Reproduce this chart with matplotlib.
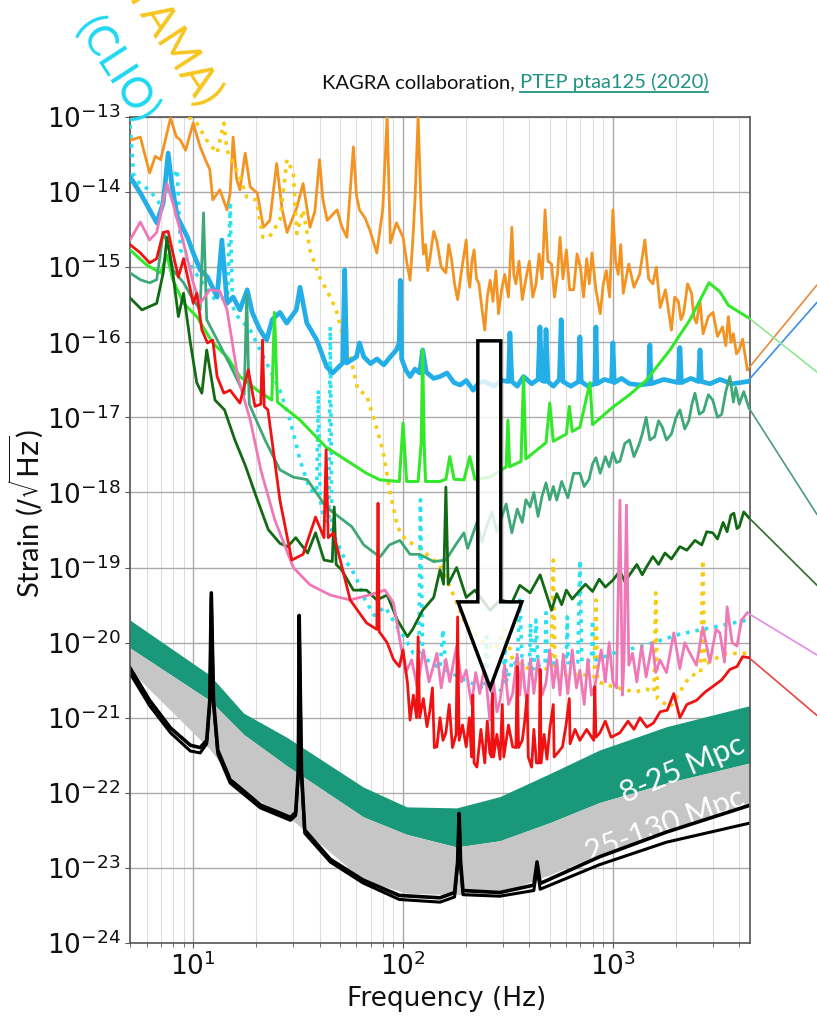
import matplotlib
matplotlib.use("Agg")
import matplotlib.pyplot as plt
import numpy as np
from matplotlib.patches import Polygon
from matplotlib.lines import Line2D
from matplotlib.ticker import LogLocator, NullLocator

# ---- data: (frequency Hz, strain /sqrt(Hz)) ----
orange_pts = [(5.0,4.9e-14),(5.6,5.4e-14),(6.2,1.8e-14),(6.6,3.0e-14),(7.0,2.7e-14),(7.8,9.7e-14),(8.3,5.5e-14),
    (8.7,4.9e-14),(9.2,3.6e-14),(10.0,8.3e-14),(10.8,4.0e-14),(11.5,2.6e-14),(12.0,2.0e-14),(12.4,7.9e-15),
    (13.4,1.07e-14),(14.5,5.8e-15),(15.0,9.7e-15),(15.5,5.4e-14),(16.1,1.5e-14),(16.7,1.07e-14),(17.7,3.3e-14),
    (18.7,1.17e-14),(20.2,9.7e-15),(21.6,3.4e-15),(23.2,4.2e-15),(25.0,2.4e-14),(26.5,6.0e-15),(28.0,2.9e-15),
    (31.2,6.3e-15),(33.4,1.3e-14),(36.0,3.4e-15),(38.0,5.5e-15),(40.0,2.7e-14),(41.5,8.0e-15),(43.5,4.2e-15),
    (48.5,5.8e-15),(51.0,3.5e-15),(54.0,2.5e-15),(58.0,4.0e-14),(60.0,9.0e-15),(62.0,5.8e-15),(66.0,4.5e-15),
    (69.5,3.1e-15),(75.0,1.55e-15),(80.0,5.8e-15),(84.0,1.0e-13),(87.0,2.1e-15),(93.0,3.9e-15),(100.0,2.5e-15),
    (104,1.2e-15),(108,6.7e-16),(111,2.0e-15),(114,7.9e-15),(118,1.0e-13),(122,5.8e-15),(125,1.5e-15),
    (128,2.0e-15),(131,9e-16),(134,1.25e-15),(140,3e-15),(145,2.2e-15),(152,1.0e-15),(160,8.4e-16),(165,2e-15),
    (170,1.3e-15),(176,6e-16),(182,3.7e-16),(190,9e-16),(200,2.3e-15),(204,8e-16),(208,5.4e-16),(213,1.2e-15),
    (218,1.7e-15),(224,7e-16),(230,6.0e-16),(237,3e-16),(245,1.45e-16),(252,4e-16),(260,6.7e-16),(268,3.5e-16),
    (277,9e-16),(285,2.4e-16),(295,5e-16),(305,8.0e-16),(318,4e-16),(330,3.4e-15),(337,8e-16),(345,6.0e-16),
    (357,1.2e-15),(370,3.7e-16),(385,7e-16),(400,1.2e-15),(415,4e-16),(430,6.0e-16),(445,1.5e-15),(460,7e-16),
    (475,5.8e-15),(490,1.2e-15),(510,1.1e-15),(527,4e-16),(545,8.4e-16),(560,2.5e-15),(578,7e-16),(600,1.7e-15),
    (622,5e-16),(650,5.0e-16),(675,1.5e-15),(700,1.0e-15),(725,4e-16),(750,1.3e-15),(772,6e-16),(795,1.55e-15),
    (830,5e-16),(870,2.4e-16),(900,6e-16),(930,9.0e-16),(965,4e-16),(1000,5.8e-15),(1030,1.2e-15),(1060,8.0e-16),
    (1090,2e-15),(1120,4.5e-16),(1190,1.1e-15),(1260,5.4e-16),(1340,8e-16),(1420,2.3e-15),(1480,7e-16),
    (1550,6.0e-16),(1610,1.0e-15),(1680,2.9e-16),(1780,5e-16),(1900,1.45e-16),(1970,4e-16),(2050,3.5e-16),
    (2110,2e-16),(2170,2.4e-16),(2270,6e-16),(2370,4.5e-16),(2430,2.2e-16),(2500,1.8e-16),(2600,3.5e-16),
    (2690,1.3e-16),(2850,2.2e-16),(3000,2.5e-16),(3150,1.2e-16),(3330,1.6e-16),(3450,9e-17),(3550,2.2e-16),
    (3650,1.0e-16),(3750,1.3e-16),(3880,7e-17),(4000,8.0e-17),(4150,1.1e-16),(4370,4.3e-17)]

tama_pts = [(9.5,1.0e-13),(10.4,8.3e-14),(11.6,4.9e-14),(13.0,3.3e-14),(14.0,8.3e-14),(14.5,3.6e-14),(16.7,1.6e-14),
    (18.0,8.6e-15),(20.0,7.8e-15),(21.5,2.5e-15),(23.0,2.5e-15),(25.9,4.2e-15),(28.0,2.7e-14),(30.0,1.8e-14),
    (31.2,2.8e-15),(33.4,5.8e-15),(36.0,1.7e-15),(40.0,7.4e-16),(45.0,4.0e-16),(48.0,2.7e-16),(52.0,1.16e-16),
    (57.0,5.3e-17),(61.0,2.3e-17),(67.0,2.0e-17),(73.0,9.2e-18),(80.0,3.7e-18),(87.0,9.7e-19),(94.0,3.5e-19),
    (103.0,2.3e-19),(114.0,2.0e-19),(130.0,1.5e-19),(150.0,1.08e-19),(172.0,4.6e-20),(195.0,2.0e-20),
    (232.0,1.1e-20),(275.0,8.0e-21),(305.0,1.5e-20),(333.0,5.9e-21),(403.0,4.4e-21),(510.0,4.5e-21),
    (520.0,1.26e-19),(530.0,4.0e-21),(545.0,3.6e-21),(700.0,3.8e-21),(815.0,3.5e-21),(830.0,3.7e-20),
    (845.0,3.0e-21),(1000.0,2.6e-21),(1270.0,2.2e-21),(1450.0,2.4e-21),(1570.0,2.2e-21),(1600.0,4.6e-20),
    (1630.0,1.8e-21),(1870.0,1.38e-21),(2330.0,3.6e-21),(2620.0,4.0e-21),(2680.0,1.26e-19),(2740.0,5.0e-21),
    (2990.0,5.9e-21),(3500.0,7.2e-21),(4370.0,7.2e-21)]

clio_pts = [(5.0,7.8e-14),(5.2,1.7e-14),(5.6,1.25e-14),(6.2,1.07e-14),(7.0,6.7e-15),(7.6,1.07e-14),(8.4,2.0e-14),
    (8.7,1.7e-15),(9.7,1.07e-15),(10.8,6.8e-16),(12.7,3.7e-16),(14.6,4.0e-16),(15.0,6.7e-15),(15.4,3.0e-16),
    (16.3,2.2e-16),(18.7,1.46e-16),(22.0,5.8e-17),(25.9,2.3e-17),(28.9,9.2e-18),(32.3,2.7e-18),(36.0,1.08e-18),
    (38.8,1.0e-18),(39.5,2.3e-17),(40.3,8.0e-19),(42.0,4.3e-19),(44.3,4.0e-19),(45.0,1.6e-16),(45.8,3.0e-19),
    (48.0,2.3e-19),(53.0,1.26e-19),(59.0,8.0e-20),(66.0,3.7e-20),(73.0,2.3e-20),(82.0,3.0e-20),(94.0,1.6e-20),
    (103.0,1.1e-20),(112.0,7.2e-21),(119.0,7.0e-21),(121.0,8.0e-19),(124.0,6.5e-21),(150.0,4.5e-21),
    (155.0,1.5e-20),(160.0,4.3e-21),(195.0,3.2e-21),(232.0,2.6e-21),(245.0,2.4e-21),(250.0,1.2e-20),
    (255.0,2.3e-21),(280.0,2.1e-21),(300.0,2.5e-21),(305.0,1.0e-20),(312.0,3.0e-21),(333.0,5.9e-21),
    (350.0,5.0e-21),(360.0,3.7e-20),(370.0,5.0e-21),(400.0,4.8e-21),(405.0,1.8e-20),(412.0,4.6e-21),
    (420.0,4.5e-21),(430.0,2.0e-20),(440.0,5.0e-21),(475.0,5.2e-21),(480.0,2.5e-20),(487.0,5.2e-21),
    (560.0,5.5e-21),(600.0,5.4e-21),(606.0,2.2e-20),(612.0,5.4e-21),(680.0,5.5e-21),(696.0,1.26e-19),
    (712.0,5.5e-21),(790.0,5.8e-21),(800.0,2.0e-20),(810.0,5.8e-21),(850.0,6.0e-21),(1000.0,7.2e-21),
    (1440.0,9.3e-21),(2085.0,1.3e-20),(2990.0,1.6e-20),(4370.0,2.0e-20)]

blue_pts = [(5.0,1.6e-14),(5.6,9.7e-15),(6.2,5.8e-15),(6.7,3.9e-15),(7.2,7.2e-15),(7.6,3.3e-14),(7.9,1.3e-14),
    (8.4,4.7e-15),(9.4,2.5e-15),(10.0,1.55e-15),(10.8,9.2e-16),(11.7,7.4e-16),(13.0,4.0e-16),(13.7,2.3e-15),
    (14.5,3.3e-16),(15.5,4.0e-16),(16.7,2.7e-16),(18.1,5.0e-16),(19.1,2.5e-16),(20.8,1.46e-16),(22.4,1.07e-16),
    (23.8,2.0e-16),(25.9,2.5e-16),(27.9,1.8e-16),(31.0,2.7e-16),(32.3,5.4e-16),(34.8,1.8e-16),(38.8,1.07e-16),
    (43.3,4.7e-17),(46.2,3.9e-17),(51.6,5.3e-17),(52.7,9.2e-16),(53.9,5.3e-17),(60.0,6.4e-17),(62.0,9.8e-17),
    (65.0,6.4e-17),(70.0,5.2e-17),(75.0,6.0e-17),(81.0,5.0e-17),(87.0,6.4e-17),(93.0,7.9e-17),(96.0,1.0e-16),
    (97.0,6.7e-16),(98.5,6.0e-17),(103.0,4.3e-17),(108.0,3.5e-17),(114.0,4.4e-17),(120.0,3.9e-17),
    (124.0,7.9e-17),(129.0,4.0e-17),(140.0,3.3e-17),(150.0,3.5e-17),(162.0,3.9e-17),(175.0,2.9e-17),
    (187.0,2.7e-17),(200.0,3.1e-17),(216.0,2.3e-17),(230.0,2.9e-17),(245.0,3.0e-17),(270.0,2.6e-17),
    (295.0,3.1e-17),(318.0,3.0e-17),(323.0,1.33e-16),(330.0,3.0e-17),(350.0,2.6e-17),(375.0,3.5e-17),
    (410.0,2.8e-17),(440.0,3.2e-17),(449.0,1.6e-16),(458.0,3.1e-17),(473.0,3.0e-17),(480.0,1.48e-16),
    (490.0,3.0e-17),(520.0,2.6e-17),(556.0,3.2e-17),(567.0,2.0e-16),(578.0,3.0e-17),(630.0,2.6e-17),
    (686.0,3.0e-17),(696.0,1.18e-16),(706.0,3.0e-17),(760.0,2.6e-17),(820.0,2.8e-17),(830.0,1.6e-16),
    (840.0,2.8e-17),(910.0,3.2e-17),(985.0,3.0e-17),(1000.0,9.8e-17),(1015.0,2.9e-17),(1100.0,3.3e-17),
    (1200.0,2.8e-17),(1345.0,2.7e-17),(1480.0,2.8e-17),(1500.0,9.2e-17),(1520.0,2.8e-17),(1750.0,3.2e-17),
    (2050.0,2.9e-17),(2085.0,8.5e-17),(2120.0,2.9e-17),(2350.0,3.3e-17),(2560.0,3.0e-17),(2600.0,7.9e-17),
    (2640.0,3.0e-17),(2900.0,2.8e-17),(3235.0,3.2e-17),(3700.0,2.8e-17),(4370.0,3.0e-17)]

lime_pts = [(5.0,1.7e-15),(6.0,1.07e-15),(7.0,8.4e-16),(7.5,1.45e-15),(8.0,6.8e-16),(9.0,3.3e-16),(10.4,2.2e-16),
    (12.4,9.8e-17),(14.5,6.4e-17),(16.7,3.5e-17),(20.2,2.3e-17),(23.7,1.7e-17),(24.4,2.5e-16),(25.2,1.6e-17),
    (32.3,9.2e-18),(43.0,4.0e-18),(55.8,2.5e-18),(67.0,1.8e-18),(77.6,1.47e-18),(96.0,1.4e-18),(100.0,8.4e-18),
    (104.0,1.4e-18),(118.0,1.4e-18),(122.0,4.5e-18),(124.0,7.9e-17),(126.0,4.5e-18),(128.0,1.4e-18),
    (150.0,1.4e-18),(160.0,1.5e-18),(167.0,3.0e-18),(175.0,1.5e-18),(195.0,1.47e-18),(208.0,3.0e-18),
    (220.0,1.5e-18),(260.0,1.6e-18),(295.0,2.0e-18),(310.0,2.2e-18),(316.0,9.2e-18),(322.0,2.2e-18),
    (365.0,2.6e-18),(375.0,3.5e-17),(385.0,2.8e-18),(480.0,4.6e-18),(500.0,1.55e-17),(520.0,4.8e-18),
    (600.0,6.0e-18),(620.0,1.4e-17),(640.0,6.5e-18),(696.0,7.4e-18),(777.0,2.9e-17),(800.0,8.0e-18),
    (1000.0,1.37e-17),(1200.0,2.0e-17),(1440.0,3.1e-17),(1870.0,7.9e-17),(2330.0,2.0e-16),(2870.0,6.2e-16),
    (3235.0,4.7e-16),(3550.0,3.1e-16),(4450.0,2.1e-16)]

seagreen_pts = [(5.0,8.4e-16),(5.6,6.8e-16),(6.2,6.2e-16),(6.7,6.8e-16),(7.2,2.9e-15),(7.6,2.0e-15),(8.0,9.2e-16),
    (9.0,6.2e-16),(10.0,3.7e-16),(10.8,2.7e-16),(11.2,5.3e-15),(11.6,2.0e-16),(13.4,9.2e-17),(15.8,3.7e-17),
    (17.5,2.0e-17),(18.0,4.3e-16),(18.5,1.5e-17),(22.0,5.0e-18),(25.9,2.0e-18),(30.0,1.6e-18),(35.0,1.48e-18),
    (43.0,6.4e-19),(57.0,3.5e-19),(65.0,2.0e-19),(77.6,1.38e-19),(86.0,2.0e-19),(96.6,2.3e-19),(108.0,1.5e-19),
    (120.0,1.5e-19),(140.0,1.2e-19),(160.0,1.26e-19),(178.0,2.0e-19),(195,2.9e-19),(203,1.8e-19),(210,2.3e-19),
    (225,4e-19),(238,2.2e-19),(250,3.5e-19),(265,5.5e-19),(280,3e-19),(295,4.7e-19),(310,7e-19),(330,2.9e-19),
    (350,6e-19),(370,4e-19),(385,8e-19),(403,6.4e-19),(420,1.0e-18),(440,4.8e-19),(460,9e-19),(480,1.34e-18),
    (500,8e-19),(520,1.2e-18),(540,7.9e-19),(570,1.4e-18),(610,8.5e-19),(650,1.8e-18),(696,1.8e-18),
    (730,1.2e-18),(770,1.5e-18),(800,2.4e-18),(830,2.9e-18),(870,1.8e-18),(920,3.0e-18),(960,2.2e-18),
    (1000,3.4e-18),(1040,2.5e-18),(1080,2.6e-18),(1140,4.5e-18),(1200,5.0e-18),(1260,3.0e-18),(1330,4.3e-18),
    (1380,6e-18),(1440,1.0e-17),(1500,5e-18),(1580,5.5e-18),(1650,9e-18),(1720,7.4e-18),(1800,5e-18),
    (1900,6.0e-18),(2000,1.0e-17),(2085,1.26e-17),(2200,7e-18),(2300,9.0e-18),(2380,1.5e-17),(2460,2.1e-17),
    (2580,1.1e-17),(2700,1.2e-17),(2850,2e-17),(2990,1.7e-17),(3150,1e-17),(3300,1.1e-17),(3450,2.2e-17),
    (3610,3.5e-17),(3750,1.6e-17),(3850,2.5e-17),(4000,1.5e-17),(4200,2.2e-17),(4450,1.33e-17)]

darkgreen_pts = [(5.0,3.9e-16),(5.7,2.7e-16),(6.7,3.3e-16),(7.2,8.4e-16),(7.5,2.5e-15),(8.0,8.4e-16),(8.5,2.2e-16),
    (9.0,4.5e-16),(9.7,9.8e-17),(10.4,2.9e-17),(11.0,2.1e-17),(11.6,7.9e-17),(12.7,1.7e-17),(14.1,1.26e-17),
    (15.8,5.0e-18),(17.7,2.3e-18),(20.0,8.7e-19),(22.8,3.2e-19),(25.9,2.1e-19),(28.2,1.9e-19),(30.8,2.5e-19),
    (35.1,1.56e-19),(38.3,2.9e-19),(42.0,1.26e-19),(46.0,1.2e-19),(47.0,6.4e-19),(48.0,1.1e-19),(51.0,9.3e-20),
    (58.0,5.0e-20),(67.0,5.0e-20),(75.0,3.7e-20),(84.0,4.3e-20),(94.0,2.0e-20),(105.0,1.2e-20),(111.0,1.5e-20),
    (124.0,2.7e-20),(140.0,4.0e-20),(150.0,9.3e-20),(156.0,6.0e-20),(160.0,1.18e-18),(164.0,6.0e-20),
    (180.0,1.0e-19),(200.0,4.0e-20),(220.0,5.0e-20),(260.0,2.7e-20),(290.0,3.7e-20),(330.0,3.4e-20),
    (360.0,5.8e-20),(403.0,4.6e-20),(450.0,8.0e-20),(510,2.7e-20),(540,4.5e-20),(570,3.2e-20),(600,5.0e-20),
    (640,3.8e-20),(696,5.0e-20),(740,6e-20),(800,4.8e-20),(860,7e-20),(920,5.5e-20),(1000,6.8e-20),(1080,9e-20),
    (1140,6.5e-20),(1200,8.0e-20),(1300,1.1e-19),(1380,8e-20),(1440,1.0e-19),(1550,1.4e-19),(1650,1.1e-19),
    (1770,1.56e-19),(1900,1.3e-19),(2085,1.9e-19),(2250,1.7e-19),(2460,2.3e-19),(2650,2.0e-19),(2800,3e-19),
    (2990,2.9e-19),(3150,2.4e-19),(3350,4.0e-19),(3500,3e-19),(3650,5e-19),(3770,5.3e-19),(3900,3.3e-19),
    (4000,3.5e-19),(4200,5.5e-19),(4450,4.6e-19)]

pink_pts = [(5.0,2.3e-15),(5.6,4.0e-15),(6.2,2.3e-15),(6.7,2.9e-15),(7.5,1.3e-14),(8.0,7.2e-15),(9.0,2.1e-15),
    (10.0,6.2e-16),(10.8,3.3e-16),(12.0,5.0e-16),(13.4,4.8e-16),(14.5,2.7e-16),(16.3,3.5e-17),(18.7,9.2e-18),
    (21.0,2.0e-18),(24.5,4.3e-19),(30.0,1.0e-19),(36.0,5.9e-20),(45.0,4.3e-20),(56.0,3.7e-20),(69.0,4.3e-20),
    (82.0,5.0e-20),(90.0,3.4e-20),(97,1.0e-20),(103,4e-21),(110,5.9e-21),(117,2.5e-21),(125,8.0e-21),(133,3e-21),
    (145,7.2e-21),(152,2.5e-21),(160,6e-21),(167,3e-21),(180,9.0e-21),(190,3e-21),(200,4.3e-21),(212,1.5e-21),
    (222,4e-21),(232,2.1e-21),(245,5e-21),(259,9.3e-22),(270,3e-21),(280,1.2e-21),(290,1.7e-21),(305,5e-21),
    (318,1.5e-21),(333,2.1e-21),(350,7e-21),(360,2e-21),(370,5.9e-21),(380,2.5e-21),(390,1.5e-21),(405,6e-21),
    (420,2.1e-21),(440,6e-21),(460,2e-21),(480,2.9e-21),(500,8e-21),(520,2.5e-21),(540,5.9e-21),(560,2e-21),
    (580,7e-21),(610,2.1e-21),(640,8e-21),(670,2.5e-21),(696,4.3e-21),(730,1.5e-21),(760,6e-21),(790,2e-21),
    (820,2.6e-21),(880,8e-21),(920,3e-21),(960,1.0e-20),(1000,3e-21),(1040,2.5e-21),(1080,7.9e-19),(1110,2.0e-21),
    (1130,6e-21),(1160,6.8e-19),(1190,5.0e-21),(1240,7.2e-21),(1300,3e-21),(1370,9e-21),(1440,3.5e-21),
    (1540,1e-20),(1600,4e-21),(1675,5.9e-21),(1800,4e-21),(1950,1.35e-20),(2085,4.5e-21),(2200,1e-20),
    (2330,7.2e-21),(2500,5e-21),(2680,1.6e-20),(2900,5.5e-21),(3100,1.5e-20),(3235,1.35e-20),(3400,5.5e-21),
    (3500,3.0e-20),(3700,1e-20),(3900,9.0e-21),(4100,2e-20),(4370,2.5e-20)]

red_pts = [(5.0,2.0e-15),(5.6,1.55e-15),(6.2,1.14e-15),(6.7,1.3e-15),(7.2,2.9e-15),(7.6,3.0e-15),(8.0,1.55e-15),
    (8.5,7.4e-16),(9.0,1.3e-15),(9.7,5.0e-16),(10.0,3.3e-16),(10.4,4.5e-16),(11.0,1.46e-16),(11.7,9.8e-17),
    (12.4,1.07e-16),(13.0,3.5e-17),(14.0,2.1e-17),(15.0,2.3e-17),(16.7,1.55e-17),(18.3,4.3e-17),(19.7,1.4e-17),
    (21.0,1.5e-17),(21.4,1.07e-16),(21.8,1.4e-17),(22.7,1.26e-17),(25.9,7.9e-19),(29.5,1.26e-19),(33.4,1.5e-19),
    (38.3,4.7e-19),(42.0,2.5e-19),(43.0,3.7e-18),(44.0,2.5e-19),(46.6,2.9e-19),(56.0,3.7e-20),(67.0,1.83e-20),
    (75.0,1.5e-20),(76.0,7.2e-19),(77.0,1.4e-20),(84,1.0e-20),(90,6e-21),(96,4.8e-21),(100,8e-21),(105,2.9e-21),
    (108,9.3e-22),(112,2e-21),(116,1.0e-21),(118,1.2e-20),(120,1.0e-21),(125,1.8e-21),(130,7.6e-22),(134,1.2e-21),
    (138,2.5e-21),(141,4.0e-22),(145,4.1e-22),(150,1e-21),(155,5e-22),(160,6.3e-22),(166,1.5e-21),(172,4e-22),
    (179,6.0e-22),(182,2.2e-20),(185,5.0e-22),(192,8e-22),(200,4.1e-22),(207,1.0e-21),(212,3e-22),(215,2.0e-21),
    (218,2.5e-22),(225,2.2e-22),(235,7e-22),(245,2.5e-22),(252,9e-22),(259,3.4e-22),(264,3.0e-22),(267,2.1e-21),
    (270,3.0e-22),(280,6e-22),(290,2.8e-22),(297,1.5e-21),(302,3.0e-22),(318,8e-22),(333,4.1e-22),(345,4.0e-22),
    (350,4.8e-21),(355,4.0e-22),(370,5.0e-22),(380,9e-22),(390,2.0e-21),(395,3.0e-22),(410,2.2e-22),(420,7e-22),
    (432,2.5e-22),(445,2.5e-22),(450,4.4e-21),(455,2.5e-22),(470,6e-22),(485,2.8e-22),(500,7e-22),(520,1.5e-21),
    (525,3.0e-22),(550,3.5e-22),(575,4.1e-22),(598,8e-22),(620,1.8e-21),(625,4.5e-22),(660,7e-22),(696,5.0e-22),
    (750,7e-22),(810,5.0e-22),(820,2.6e-21),(830,5.5e-22),(867,6.3e-22),(920,9e-22),(980,5.5e-22),(1080,6.3e-22),
    (1180,9e-22),(1260,7e-22),(1345,1.0e-21),(1450,7.5e-22),(1560,8.5e-22),(1680,1.2e-21),(1815,1.26e-21),
    (1950,2.1e-21),(2085,1.0e-21),(2250,1.5e-21),(2500,1.7e-21),(2750,2.2e-21),(2990,2.6e-21),(3300,3.2e-21),
    (3610,4.4e-21),(3900,4.8e-21),(4150,6.5e-21),(4450,6.3e-21)]

design1_pts = [(5.0,4.6e-21),(6.2,1.7e-21),(7.8,7.3e-22),(9.7,4.3e-22),(10.8,4.0e-22),(11.6,5.0e-22),(12.0,1.7e-21),
    (12.2,4.6e-20),(12.5,1.7e-21),(13.1,3.7e-22),(15.0,1.5e-22),(20.9,6.9e-23),(29.1,4.7e-23),(30.8,5.5e-23),
    (31.7,2.0e-22),(32.0,2.3e-20),(32.8,2.0e-22),(34.0,3.2e-23),(45.0,1.3e-23),(64.5,6.9e-24),(96.0,4.3e-24),
    (150.0,4.0e-24),(176.0,4.7e-24),(182.0,1.2e-23),(185.0,5.3e-23),(188.0,1.2e-23),(193.0,5.0e-24),
    (289.0,4.7e-24),(420.0,5.9e-24),(435.0,1.2e-23),(450.0,6.2e-24),(860.0,1.4e-23),(1800.0,3.0e-23),
    (4400.0,6.7e-23)]

design2_pts = [(5.0,3.9e-21),(6.2,1.45e-21),(7.8,6.3e-22),(9.7,3.6e-22),(10.8,3.4e-22),(11.6,4.5e-22),(12.0,1.5e-21),
    (12.2,4.0e-20),(12.5,1.5e-21),(13.1,3.3e-22),(15.0,1.35e-22),(20.9,6.3e-23),(29.1,4.3e-23),(30.8,5.0e-23),
    (31.7,1.8e-22),(32.0,2.0e-20),(32.8,1.8e-22),(34.0,2.9e-23),(45.0,1.2e-23),(64.5,6.3e-24),(96.0,3.8e-24),
    (150.0,3.5e-24),(176.0,4.1e-24),(182.0,1.1e-23),(185.0,4.8e-23),(188.0,1.1e-23),(193.0,4.4e-24),
    (289.0,4.2e-24),(420.0,5.0e-24),(435.0,1.0e-23),(450.0,5.2e-24),(860.0,1.1e-23),(1800.0,2.2e-23),
    (4400.0,3.9e-23)]

band_f = [5.0, 12.0, 17.4, 27.9, 64.5, 104, 180, 289, 500, 860, 1800, 4500]
green_hi = [2.0e-20, 3.7e-21, 1.15e-21, 5.5e-22, 1.2e-22, 6.5e-23, 6.3e-23, 8.9e-23, 1.8e-22, 3.7e-22, 7.6e-22, 1.45e-21]
green_lo = [8.5e-21, 1.7e-21, 6.0e-22, 2.3e-22, 4.8e-23, 2.8e-23, 1.9e-23, 2.3e-23, 4.0e-23, 7.4e-23, 1.35e-22, 2.5e-22]
gray_lo = [4.3e-21, 3.8e-22, 1.0e-22, 5.0e-23, 6.9e-24, 4.6e-24, 4.4e-24, 4.6e-24, 8.1e-24, 1.5e-23, 3.0e-23, 6.9e-23]

band_labels = ["8-25 Mpc", "25-130 Mpc"]


def xy(pts):
    a = np.array(pts)
    return a[:, 0], a[:, 1]


fig = plt.figure(figsize=(8.17, 10.25), dpi=100)
ax = fig.add_axes([130 / 817, 1 - 943 / 1025, 620 / 817, 826 / 1025])
ax.set_xscale('log')
ax.set_yscale('log')
ax.set_xlim(5, 4500)
ax.set_ylim(1e-24, 1e-13)

# bands
ax.fill_between(band_f, green_lo, green_hi, color='#19997a', lw=0, zorder=1)
ax.fill_between(band_f, gray_lo, green_lo, color='#c6c6c6', lw=0, zorder=1)
ax.text(0.89, 0.21, band_labels[0], transform=ax.transAxes, rotation=23, color='white',
        fontsize=22, family='Lato', ha='center', va='center', rotation_mode='anchor', zorder=1.5)
ax.text(0.862, 0.142, band_labels[1], transform=ax.transAxes, rotation=20, color='white',
        fontsize=22, family='Lato', ha='center', va='center', rotation_mode='anchor', zorder=1.5)

# design curves
f, h = xy(design2_pts)
ax.plot(f, h, color='black', lw=2.2, zorder=2)
f, h = xy(design1_pts)
ax.plot(f, h, color='black', lw=2.6, zorder=2)

# measured spectra
curves = [
    (orange_pts, '#f39321', '-', 2.0),
    (tama_pts, '#f7cb12', ':', 2.6),
    (clio_pts, '#26e2f0', ':', 2.6),
    (blue_pts, '#23aee8', '-', 3.4),
    (lime_pts, '#33e82a', '-', 2.2),
    (seagreen_pts, '#3fa878', '-', 2.0),
    (darkgreen_pts, '#126a14', '-', 2.0),
    (pink_pts, '#ef78b6', '-', 2.0),
    (red_pts, '#f01212', '-', 2.0),
]
for i, (pts, c, ls, lw) in enumerate(curves):
    f, h = xy(pts)
    ax.plot(f, h, color=c, ls=ls, lw=lw, zorder=3 + i * 0.1)

# connector lines to the (cropped) labels at right
connectors = [
    (orange_pts, 0.722, '#e88a3c'),
    (blue_pts, 0.705, '#3b8fe6'),
    (lime_pts, 0.637, '#8fe88f'),
    (seagreen_pts, 0.498, '#4f9a7c'),
    (darkgreen_pts, 0.429, '#2e6e2e'),
    (pink_pts, 0.361, '#e48ce4'),
    (red_pts, 0.302, '#e84444'),
]
for pts, yf, c in connectors:
    ax.annotate('', xy=pts[-1], xycoords='data', xytext=(1.0, yf), textcoords='figure fraction',
                arrowprops=dict(arrowstyle='-', color=c, lw=1.2, shrinkA=0, shrinkB=0),
                annotation_clip=False)

# hollow arrow
arrow = Polygon([(0.561, 0.729), (0.598, 0.729), (0.598, 0.413), (0.632, 0.413),
                 (0.581, 0.309), (0.529, 0.413), (0.561, 0.413)], closed=True,
                transform=ax.transAxes, facecolor=(1, 1, 1, 0.82), edgecolor='black', lw=2.5, zorder=10)
ax.add_patch(arrow)

# grid / axes style
ax.yaxis.set_major_locator(LogLocator(base=10, numticks=20))
ax.yaxis.set_minor_locator(NullLocator())
ax.grid(which='major', color='#aaaaaa', lw=1.0, zorder=0)
ax.grid(which='minor', axis='x', color='#dddddd', lw=0.8, zorder=0)
ax.set_axisbelow(True)
for s in ax.spines.values():
    s.set_color('#555555')
    s.set_linewidth(1.2)
ax.tick_params(which='both', colors='#555555', labelcolor='#111111', labelsize=19)
ax.tick_params(which='minor', length=3)

ax.set_xlabel('Frequency (Hz)', fontsize=19, color='#111111')
ax.xaxis.set_label_coords(0.51, -0.052)
ax.set_ylabel('Strain ($/\\sqrt{\\mathrm{Hz}}$)', fontsize=21, family='Lato', color='#111111')
ax.yaxis.set_label_coords(-0.135, 0.52)

# header texts
fig.text(0.143, 0.932, '(CLIO)', rotation=-57, color='#1fd8f2', fontsize=30, family='Lato',
         ha='center', va='center')
fig.text(0.206, 0.961, '(TAMA)', rotation=-57, color='#f7c51e', fontsize=32, family='Lato',
         ha='center', va='center')

t1 = fig.text(0.394, 0.914, 'KAGRA collaboration, ', fontsize=14.5, family='Lato', color='#111111')
fig.canvas.draw()
r = fig.canvas.get_renderer()
W, H = fig.bbox.width, fig.bbox.height
bb = t1.get_window_extent(r)
t2 = fig.text(bb.x1 / W, 0.914, 'PTEP ptaa125 (2020)', fontsize=14.5, family='Lato', color='#1f9484')
bb2 = t2.get_window_extent(r)
fig.add_artist(Line2D([bb2.x0 / W, bb2.x1 / W], [(bb2.y0 - 1) / H] * 2, color='#1f9484', lw=1.3,
                      transform=fig.transFigure))

fig.savefig('out.png', dpi=100)
